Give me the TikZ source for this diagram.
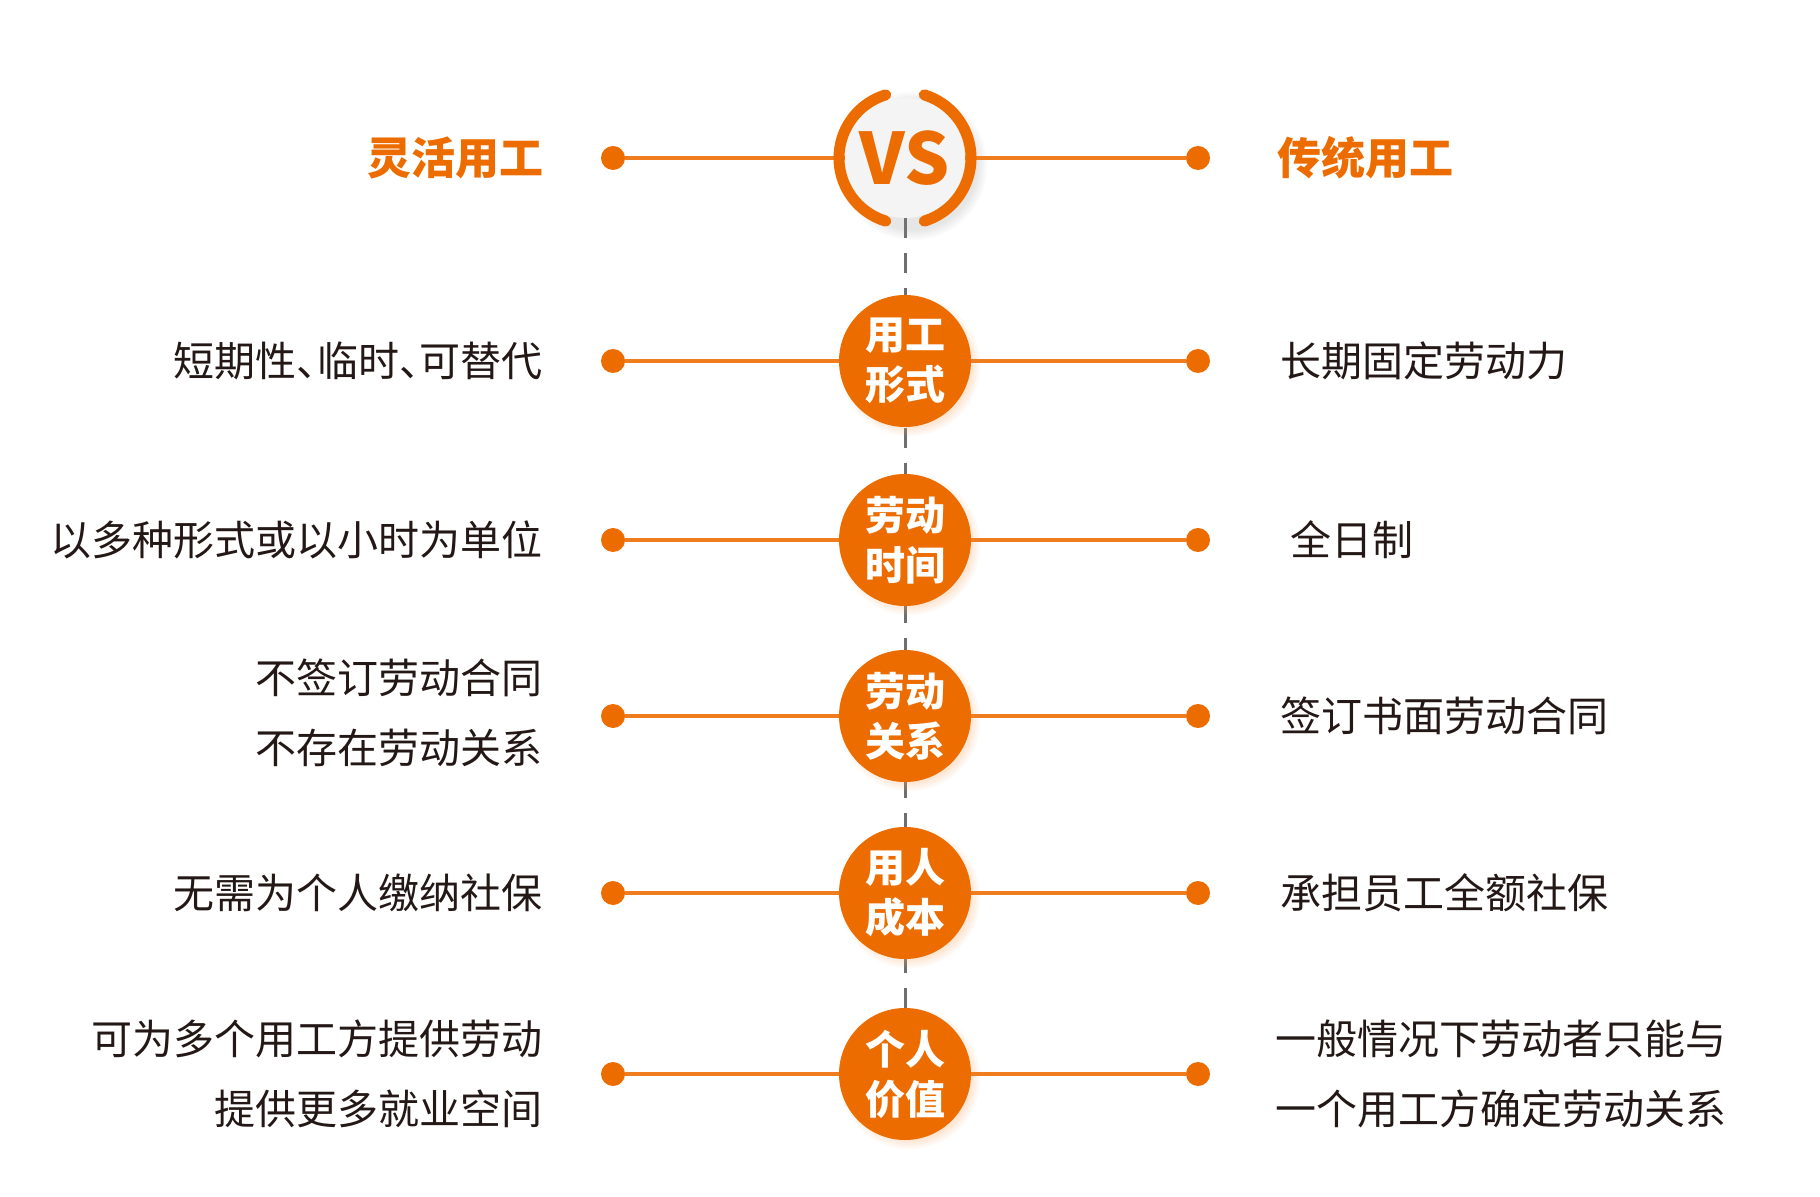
\documentclass[tikz,border=0pt]{standalone}
\usepackage{fontspec}
\setmainfont{Noto Sans CJK SC}
\usepackage{xcolor}
\usepackage{tikz}
\usetikzlibrary{positioning, shadows, backgrounds}
\definecolor{vsOrange}{RGB}{236, 108, 0}
\definecolor{vsLine}{RGB}{239, 125, 30}
\definecolor{vsText}{RGB}{35, 24, 21}
\definecolor{vsGray}{RGB}{110, 110, 110}
\definecolor{vsLight}{RGB}{244, 244, 244}
\newcommand{\halfdun}{\makebox[0.5em][l]{、}}
\tikzset{
    base/.style={
        font=\fontsize{20.5pt}{35pt}\selectfont,
        text=vsText,
        inner sep=0pt
    },
    leftitem/.style={
        base,
        anchor=east,
        align=right
    },
    rightitem/.style={
        base,
        anchor=west,
        align=left
    },
    heading/.style={
        font=\bfseries\fontsize{22pt}{22pt}\selectfont,
        text=vsOrange,
        inner sep=0pt
    },
    topic/.style={
        circle,
        fill=vsOrange,
        minimum size=66pt,
        inner sep=0pt,
        text=white,
        align=center,
        font=\bfseries\fontsize{20pt}{25pt}\selectfont,
        circular drop shadow={shadow xshift=2pt, shadow yshift=-2pt, opacity=0.3, fill=vsOrange!60, shadow scale=1.08}
    },
    badge/.style={
        circle,
        fill=vsLight,
        minimum size=60pt,
        inner sep=0pt,
        text=vsOrange,
        font=\bfseries\fontsize{35.5pt}{35.5pt}\selectfont,
        circular drop shadow={shadow xshift=3pt, shadow yshift=-3pt, opacity=0.2, shadow scale=1.25}
    },
    ring/.style={
        vsOrange,
        line width=5.5pt,
        line cap=round
    },
    dot/.style={
        circle,
        fill=vsOrange,
        minimum size=12pt,
        inner sep=0pt
    },
    link/.style={
        vsLine,
        line width=2pt
    },
    spine/.style={
        vsGray,
        line width=1.5pt,
        dash pattern=on 10pt off 7.5pt
    }
}

\begin{document}
\begin{tikzpicture}[x=0.5pt, y=-0.5pt]
    \useasboundingbox (0,0) rectangle (1820,1197);

    % Centre column
    \node[badge] (vs) at (905,158) {VS};
    \node[topic] (form) at (905,361) {用工\\形式};
    \node[topic] (hours) at (905,540) {劳动\\时间};
    \node[topic] (contract) at (905,716) {劳动\\关系};
    \node[topic] (cost) at (905,893) {用人\\成本};
    \node[topic] (worth) at (905,1074) {个人\\价值};

    % Dashed spine behind the circles
    \begin{pgfonlayer}{background}
        \draw[spine] (vs.south) -- (worth.center);
    \end{pgfonlayer}

    % Dots
    \node[dot] (l0) at (613,158) {};
    \node[dot] (r0) at (1198,158) {};
    \node[dot] (l1) at (613,361) {};
    \node[dot] (r1) at (1198,361) {};
    \node[dot] (l2) at (613,540) {};
    \node[dot] (r2) at (1198,540) {};
    \node[dot] (l3) at (613,716) {};
    \node[dot] (r3) at (1198,716) {};
    \node[dot] (l4) at (613,893) {};
    \node[dot] (r4) at (1198,893) {};
    \node[dot] (l5) at (613,1074) {};
    \node[dot] (r5) at (1198,1074) {};

    % Links
    \draw[link] (l0) -- (vs) -- (r0);
    \draw[link] (l1) -- (form) -- (r1);
    \draw[link] (l2) -- (hours) -- (r2);
    \draw[link] (l3) -- (contract) -- (r3);
    \draw[link] (l4) -- (cost) -- (r4);
    \draw[link] (l5) -- (worth) -- (r5);

    % Ring round VS
    \draw[ring] ([shift={(107:33pt)}]vs.center) arc[start angle=107, end angle=253, radius=33pt];
    \draw[ring] ([shift={(-73:33pt)}]vs.center) arc[start angle=-73, end angle=73, radius=33pt];

    % Headings
    \node[heading, anchor=east] (flex) at (544,158) {灵活用工};
    \node[heading, anchor=west] (trad) at (1277,158) {传统用工};

    % Flexible side
    \node[leftitem] (flex1) at (543,361) {短期性\halfdun 临时\halfdun 可替代};
    \node[leftitem] (flex2) at (543,540) {以多种形式或以小时为单位};
    \node[leftitem] (flex3) at (543,713) {不签订劳动合同\\不存在劳动关系};
    \node[leftitem] (flex4) at (543,893) {无需为个人缴纳社保};
    \node[leftitem] (flex5) at (543,1074) {可为多个用工方提供劳动\\提供更多就业空间};

    % Traditional side
    \node[rightitem] (trad1) at (1280,361) {长期固定劳动力};
    \node[rightitem] (trad2) at (1290,540) {全日制};
    \node[rightitem] (trad3) at (1280,716) {签订书面劳动合同};
    \node[rightitem] (trad4) at (1280,893) {承担员工全额社保};
    \node[rightitem] (trad5) at (1275,1074) {一般情况下劳动者只能与\\一个用工方确定劳动关系};

\end{tikzpicture}
\end{document}
